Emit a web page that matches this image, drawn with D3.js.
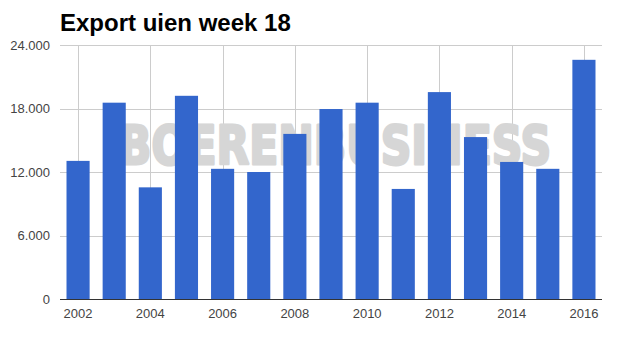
<!DOCTYPE html>
<html>
<head>
<meta charset="utf-8">
<script src="https://cdn.jsdelivr.net/npm/d3@7"></script>
<style>
  body { margin: 0; background: #fff; }
  svg { display: block; font-family: "Liberation Sans", Arial, sans-serif; }
</style>
</head>
<body>
<svg id="chart"></svg>
<script>
// data
const years = ["2002","2003","2004","2005","2006","2007","2008","2009","2010","2011","2012","2013","2014","2015","2016"];
const exportValues = [13050, 18550, 10550, 19200, 12300, 12000, 15600, 17950, 18550, 10400, 19550, 15300, 12950, 12300, 22600];
const yTicks = [0, 6000, 12000, 18000, 24000];
const xLabels = ["2002","2004","2006","2008","2010","2012","2014","2016"];

const w = 625, h = 350;
const plotLeft = 60, plotRight = 602, plotTop = 45, plotBottom = 299;

const svg = d3.select("#chart").attr("width", w).attr("height", h);

const x = d3.scaleBand()
    .domain(years)
    .range([plotLeft, plotRight])
    .paddingInner(0.36)
    .paddingOuter(0.18);

const y = d3.scaleLinear()
    .domain([0, 24000])
    .range([plotBottom, plotTop]);

const fmt = d => d3.format(",")(d).replace(/,/g, ".");

// title
svg.append("text")
    .attr("x", 60)
    .attr("y", 31)
    .attr("font-size", "24px")
    .attr("font-weight", "bold")
    .attr("fill", "#000")
    .text("Export uien week 18");

// horizontal gridlines
svg.append("g")
    .selectAll("line")
    .data(yTicks.slice(1))
    .enter()
    .append("line")
    .attr("x1", plotLeft)
    .attr("x2", plotRight)
    .attr("y1", d => Math.round(y(d)) + 0.5)
    .attr("y2", d => Math.round(y(d)) + 0.5)
    .attr("stroke", "#cccccc");

// vertical gridlines
svg.append("g")
    .selectAll("line")
    .data(xLabels)
    .enter()
    .append("line")
    .attr("x1", d => Math.round(x(d) + x.bandwidth() / 2) + 0.5)
    .attr("x2", d => Math.round(x(d) + x.bandwidth() / 2) + 0.5)
    .attr("y1", plotTop)
    .attr("y2", plotBottom)
    .attr("stroke", "#cccccc");

// watermark
svg.append("text")
    .attr("x", 119)
    .attr("y", 164)
    .attr("font-size", "54px")
    .attr("font-weight", "bold")
    .attr("font-family", "'DejaVu Sans', sans-serif")
    .attr("textLength", 432)
    .attr("lengthAdjust", "spacingAndGlyphs")
    .attr("fill", "#d6d6d6")
    .attr("stroke", "#d6d6d6")
    .attr("stroke-width", 3)
    .attr("stroke-linejoin", "round")
    .text("BOERENBUSINESS");

// bars
svg.append("g")
    .selectAll("rect")
    .data(exportValues)
    .enter()
    .append("rect")
    .attr("x", (d, i) => x(years[i]))
    .attr("y", d => y(d))
    .attr("width", x.bandwidth())
    .attr("height", d => y(0) - y(d))
    .attr("fill", "#3366cc");

// baseline
svg.append("line")
    .attr("x1", plotLeft)
    .attr("x2", plotRight)
    .attr("y1", plotBottom + 0.5)
    .attr("y2", plotBottom + 0.5)
    .attr("stroke", "#333");

// y labels
svg.append("g")
    .selectAll("text")
    .data(yTicks)
    .enter()
    .append("text")
    .attr("x", 50)
    .attr("y", d => y(d))
    .attr("dy", "0.35em")
    .attr("text-anchor", "end")
    .attr("font-size", "13px")
    .attr("fill", "#444")
    .text(d => fmt(d));

// x labels
svg.append("g")
    .selectAll("text")
    .data(xLabels)
    .enter()
    .append("text")
    .attr("x", d => x(d) + x.bandwidth() / 2)
    .attr("y", 318)
    .attr("text-anchor", "middle")
    .attr("font-size", "13px")
    .attr("fill", "#444")
    .text(d => d);
</script>
</body>
</html>
